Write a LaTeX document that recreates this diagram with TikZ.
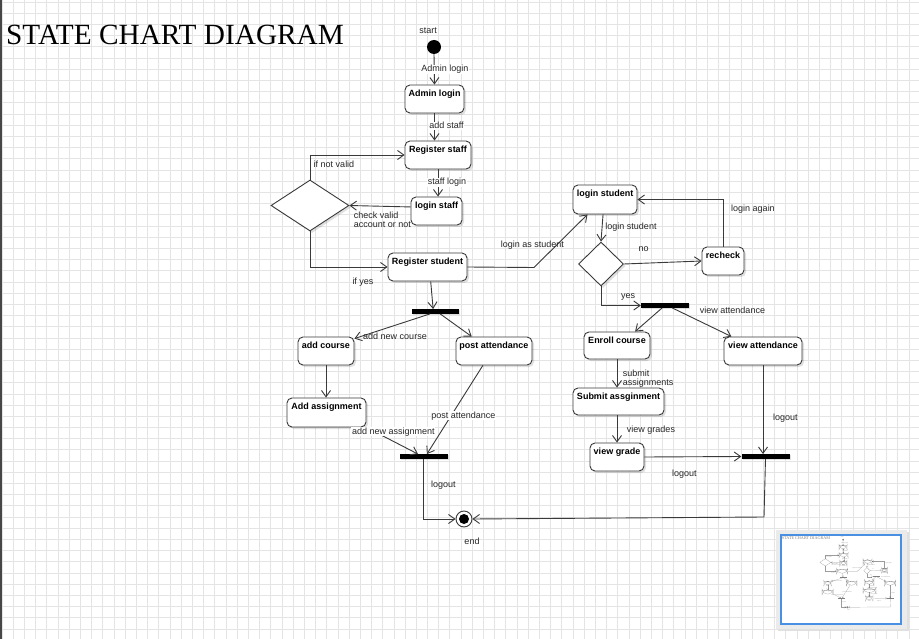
\documentclass[tikz,border=0pt]{standalone}
\usepackage{fontspec}
\setmainfont{Liberation Serif}
\newfontfamily\arialf{Liberation Sans}
\usetikzlibrary{arrows.meta,shapes.geometric,shadows,calc}
\definecolor{lc}{HTML}{3A3A3A}
\definecolor{gridc}{HTML}{E4E4E4}
\definecolor{mapblue}{HTML}{4A90E2}
\def\lw{0.9pt}
\def\shd{2pt}
\def\sho{0.12}
\tikzset{
  conn/.style={line width=\lw, draw=lc, -{Straight Barb[length=0pt 7,width=0pt 10]}},
  plainline/.style={line width=\lw, draw=lc},
  statebox/.style={draw=lc, line width=\lw, fill=white, rounded corners=5pt, inner sep=0pt,
     font=\arialf\bfseries\fontsize{9}{10}\selectfont, text height=11.5pt, text depth=16.5pt,
     drop shadow={shadow xshift=\shd, shadow yshift=-\shd, fill=black, opacity=\sho}},
  decision/.style={diamond, draw=lc, line width=\lw, fill=white, inner sep=0pt,
     drop shadow={shadow xshift=\shd, shadow yshift=-\shd, fill=black, opacity=\sho}},
  bar/.style={rectangle, fill=black, inner sep=0pt, minimum width=47pt, minimum height=4.5pt,
     drop shadow={shadow xshift=1pt, shadow yshift=-1pt, fill=black, opacity=\sho}},
  startdot/.style={circle, fill=black, inner sep=0pt, minimum size=14pt},
  endouter/.style={circle, draw=lc, line width=\lw, fill=white, inner sep=0pt, minimum size=16pt},
  endinner/.style={circle, fill=black, inner sep=0pt, minimum size=10pt},
  edgelab/.style={font=\arialf\fontsize{9}{10}\selectfont, text=black!85, inner sep=0.6pt, anchor=base},
  edgelabw/.style={edgelab, fill=white},
  edgelabl/.style={edgelab, anchor=base west},
  titletxt/.style={font=\fontsize{29.3}{31}\selectfont, anchor=base west, inner sep=0pt}
}
\newcommand\thediagram{%
  \node[titletxt] (title) at (6,44.5) {STATE CHART DIAGRAM};
  % states
  \node[startdot] (start) at (434,47) {};
  \node[statebox, minimum width=59pt] (adminlogin) at (434.5,99) {Admin login};
  \node[statebox, minimum width=66pt] (regstaff) at (438,155) {Register staff};
  \node[statebox, minimum width=51pt] (loginstaff) at (436.5,211) {login staff};
  \node[decision, minimum width=78pt, minimum height=51pt] (d1) at (310,205.5) {};
  \node[statebox, minimum width=79pt] (regstudent) at (427.5,267) {Register student};
  \node[bar] (bar1) at (435.5,311.5) {};
  \node[statebox, minimum width=56pt] (addcourse) at (326,351) {add course};
  \node[statebox, minimum width=76pt] (postatt) at (494,351) {post attendance};
  \node[statebox, minimum width=79pt, text depth=17.5pt] (addassign) at (326.5,412.5) {Add assignment};
  \node[bar, minimum width=48pt] (bar2) at (424,456.5) {};
  \node[endouter] (end) at (464,519) {};
  \node[endinner] (endin) at (464,519) {};
  \node[statebox, minimum width=64pt, text depth=17.5pt] (loginstudent) at (605,199.5) {login student};
  \node[decision, minimum width=45pt, minimum height=44pt] (d2) at (601,264) {};
  \node[statebox, minimum width=42pt] (recheck) at (723,261) {recheck};
  \node[bar, minimum width=48pt] (bar3) at (665,305.5) {};
  \node[statebox, minimum width=66pt, text depth=15.5pt] (enroll) at (617,345.5) {Enroll course};
  \node[statebox, minimum width=78pt] (viewatt) at (763,351) {view attendance};
  \node[statebox, minimum width=91pt, text depth=15.5pt] (submit) at (618.5,401.5) {Submit assginment};
  \node[statebox, minimum width=54pt] (viewgrade) at (617,457) {view grade};
  \node[bar, minimum width=48pt] (bar4) at (765.5,456.5) {};
  \coordinate (bend1) at (534,267.5);
  \coordinate (bend2) at (764,517);
  % connectors
  \draw[conn] (start.south) -- (adminlogin.north);
  \draw[conn] (adminlogin.south) -- (adminlogin.south |- regstaff.north);
  \draw[conn] (regstaff.south) -- (regstaff.south |- loginstaff.north);
  \draw[conn] ($(loginstaff.north west)!0.36!(loginstaff.south west)$) -- (d1.east);
  \draw[conn] (d1.north) |- (regstaff.west);
  \draw[conn] (d1.south) |- (regstudent.west);
  \draw[conn] (regstudent.east) -- (bend1) -- ($(loginstudent.south west)!0.23!(loginstudent.south east)$);
  \draw[conn] ($(regstudent.south west)!0.54!(regstudent.south east)$) -- ($(bar1.north west)!0.45!(bar1.north east)$);
  \draw[conn] ($(bar1.south west)!0.38!(bar1.south east)$) -- ($(addcourse.north east)!0.07!(addcourse.south east)$);
  \draw[conn] ($(bar1.south west)!0.6!(bar1.south east)$) -- ($(postatt.north west)!0.21!(postatt.north east)$);
  \draw[conn] (addcourse.south) -- (addassign.north -| addcourse.south);
  \draw[conn] (addassign.south east) -- ($(bar2.north west)!0.375!(bar2.north east)$);
  \draw[conn] ($(postatt.south west)!0.355!(postatt.south east)$) -- ($(bar2.north west)!0.56!(bar2.north east)$);
  \draw[conn] ($(bar2.south west)!0.48!(bar2.south east)$) |- (end.west);
  \draw[conn] ($(loginstudent.south west)!0.47!(loginstudent.south east)$) -- (d2.north);
  \draw[conn] (d2.east) -- (recheck.west);
  \draw[conn] (recheck.north) |- (loginstudent.east);
  \draw[conn] (d2.south) |- (bar3.west);
  \draw[conn] ($(bar3.south west)!0.44!(bar3.south east)$) -- ($(enroll.north west)!0.77!(enroll.north east)$);
  \draw[conn] ($(bar3.south west)!0.65!(bar3.south east)$) -- ($(viewatt.north west)!0.10!(viewatt.north east)$);
  \draw[conn] (enroll.south) -- (enroll.south |- submit.north);
  \draw[conn] (viewgrade.north |- submit.south) -- (viewgrade.north);
  \draw[conn] (viewgrade.east) -- (bar4.west);
  \draw[conn] (viewatt.south) -- (viewatt.south |- bar4.north);
  \draw[conn] (bar4.south) -- (bend2) -- (end.east);
  % labels
  \node[edgelab] (lstart) at (428,34) {start};
  \node[edgelabw] (l1) at (445,72) {Admin login};
  \node[edgelabw] (l2) at (446.5,129) {add staff};
  \node[edgelabw] (l3) at (447,185) {staff login};
  \node[edgelab] (l4) at (334,168) {if not valid};
  \node[edgelabl] (l5a) at (353,218.5) {check valid};
  \node[edgelabl] (l5b) at (353,227.2) {account or not};
  \node[edgelab] (l6) at (363,285) {if yes};
  \node[edgelab] (l7) at (532.3,248) {login as student};
  \node[edgelab] (l8) at (631,230) {login student};
  \node[edgelab] (l9) at (753,212) {login again};
  \node[edgelab] (l10) at (643.5,252) {no};
  \node[edgelab] (l11) at (628,299) {yes};
  \node[edgelab] (l12) at (732.5,314) {view attendance};
  \node[edgelab] (l13) at (395,340) {add new course};
  \node[edgelabw] (l14) at (463.3,418) {post attendance};
  \node[edgelabw] (l15) at (393.3,434) {add new assignment};
  \node[edgelab] (l16) at (443.3,487.5) {logout};
  \node[edgelab] (l17) at (472,544) {end};
  \node[edgelabl] (l18a) at (622,376) {submit};
  \node[edgelabl] (l18b) at (622,385) {assignments};
  \node[edgelab] (l19) at (651,432) {view grades};
  \node[edgelab] (l20) at (684.3,476) {logout};
  \node[edgelab] (l21) at (785.3,420) {logout};
}
\begin{document}
\begin{tikzpicture}[x=1pt,y=-1pt]
  \useasboundingbox (0,0) rectangle (919,639);
  \fill[white] (0,0) rectangle (919,639);
  \foreach \i in {0,...,82} \draw[gridc, line width=0.9pt] (2.1+11.196*\i,0) -- (2.1+11.196*\i,639);
  \foreach \j in {0,...,57} \draw[gridc, line width=0.9pt] (0,2.1+11.196*\j) -- (919,2.1+11.196*\j);
  \fill[black!72] (0,0) rectangle (2,639);
  \thediagram
  % minimap
  \fill[black!12] (778,532) rectangle (909,631);
  \fill[black!8] (776,530) rectangle (907,629);
  \fill[white] (781,535) rectangle (901,624);
  \begin{scope}[shift={(781,533)}, scale=0.143, transform shape, opacity=0.5]
    \def\lw{0.2pt}
    \def\shd{0.2pt}
    \def\sho{0}
    \thediagram
  \end{scope}
  \draw[mapblue, line width=1.3pt] (781,535) rectangle (901,624);
\end{tikzpicture}
\end{document}
